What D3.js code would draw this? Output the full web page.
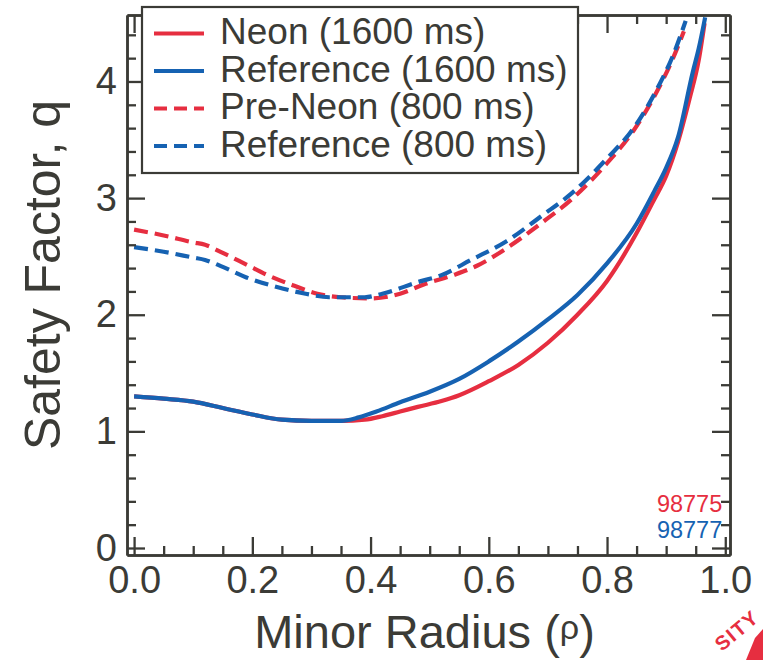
<!DOCTYPE html>
<html>
<head>
<meta charset="utf-8">
<script src="https://cdn.jsdelivr.net/npm/d3@7"></script>
<style>
  html, body { margin: 0; padding: 0; background: #ffffff; }
  svg { display: block; font-family: "Liberation Sans", Arial, Helvetica, sans-serif; }
</style>
</head>
<body>
<svg id="chart" width="763" height="660"></svg>
<script>
// Safety factor q profiles against normalized minor radius rho

// Neon-seeded discharge at 1600 ms
const neon1600Rho = [0, 0.05, 0.1, 0.15, 0.2, 0.25, 0.3, 0.35, 0.39, 0.42, 0.45, 0.48, 0.52, 0.55, 0.6, 0.65, 0.7, 0.75, 0.8, 0.85, 0.88, 0.9, 0.92, 0.94, 0.955, 0.965];
const neon1600Q   = [1.30, 1.28, 1.255, 1.20, 1.145, 1.10, 1.09, 1.09, 1.10, 1.13, 1.17, 1.21, 1.26, 1.31, 1.43, 1.57, 1.76, 2.00, 2.29, 2.70, 2.99, 3.19, 3.48, 3.86, 4.18, 4.50];

// Reference discharge at 1600 ms
const ref1600Rho = [0, 0.05, 0.1, 0.15, 0.2, 0.25, 0.3, 0.35, 0.38, 0.41, 0.45, 0.5, 0.55, 0.6, 0.65, 0.7, 0.75, 0.8, 0.85, 0.88, 0.9, 0.92, 0.945, 0.955, 0.966];
const ref1600Q   = [1.30, 1.28, 1.255, 1.20, 1.145, 1.10, 1.09, 1.09, 1.12, 1.17, 1.25, 1.34, 1.45, 1.60, 1.77, 1.96, 2.17, 2.44, 2.78, 3.06, 3.26, 3.52, 4.08, 4.28, 4.55];

// Neon discharge before injection, 800 ms
const preNeon800Rho = [0, 0.05, 0.1, 0.12, 0.15, 0.19, 0.23, 0.27, 0.31, 0.35, 0.4, 0.45, 0.49, 0.54, 0.58, 0.63, 0.69, 0.74, 0.8, 0.845, 0.885, 0.91, 0.93];
const preNeon800Q   = [2.73, 2.68, 2.62, 2.60, 2.53, 2.43, 2.33, 2.25, 2.18, 2.15, 2.14, 2.18, 2.26, 2.34, 2.42, 2.57, 2.79, 2.99, 3.30, 3.58, 3.92, 4.18, 4.43];

// Reference discharge at 800 ms
const ref800Rho = [0, 0.05, 0.1, 0.12, 0.15, 0.19, 0.24, 0.29, 0.33, 0.39, 0.42, 0.48, 0.52, 0.57, 0.63, 0.69, 0.74, 0.8, 0.845, 0.885, 0.913, 0.933];
const ref800Q   = [2.58, 2.54, 2.49, 2.47, 2.41, 2.32, 2.24, 2.18, 2.15, 2.15, 2.18, 2.28, 2.34, 2.47, 2.63, 2.85, 3.04, 3.34, 3.60, 3.94, 4.24, 4.52];

const seriesNames = ["Neon (1600 ms)", "Reference (1600 ms)", "Pre-Neon (800 ms)", "Reference (800 ms)"];
const shotNumbers = ["98775", "98777"];

const xMajorTicks = [0, 0.2, 0.4, 0.6, 0.8, 1.0];
const xMinorTicks = [0.05, 0.1, 0.15, 0.25, 0.3, 0.35, 0.45, 0.5, 0.55, 0.65, 0.7, 0.75, 0.85, 0.9, 0.95];
const yMajorTicks = [0, 1, 2, 3, 4];
const yMinorTicks = [0.2, 0.4, 0.6, 0.8, 1.2, 1.4, 1.6, 1.8, 2.2, 2.4, 2.6, 2.8, 3.2, 3.4, 3.6, 3.8, 4.2, 4.4];

const RED = "#e62e40";
const BLUE = "#1662b2";
const INK = "#3b3b36";

const svg = d3.select("#chart");

const frame = { left: 127, right: 730, top: 15, bottom: 555 };

const x = d3.scaleLinear().domain([-0.012, 1.008]).range([frame.left, frame.right]);
const y = d3.scaleLinear().domain([-0.06, 4.57]).range([frame.bottom, frame.top]);

svg.append("clipPath").attr("id", "plot-clip")
  .append("rect")
  .attr("x", frame.left).attr("y", frame.top)
  .attr("width", frame.right - frame.left).attr("height", frame.bottom - frame.top);

// Curves: each reference trace sits over its neon counterpart
const series = [
  { rho: preNeon800Rho, q: preNeon800Q, color: RED, dashed: true },
  { rho: ref800Rho, q: ref800Q, color: BLUE, dashed: true },
  { rho: neon1600Rho, q: neon1600Q, color: RED, dashed: false },
  { rho: ref1600Rho, q: ref1600Q, color: BLUE, dashed: false }
];

const line = d3.line()
  .x(d => x(d[0]))
  .y(d => y(d[1]))
  .curve(d3.curveMonotoneX);

const curves = svg.append("g").attr("clip-path", "url(#plot-clip)");
series.forEach(s => {
  curves.append("path")
    .datum(s.rho.map((r, i) => [r, s.q[i]]))
    .attr("fill", "none")
    .attr("stroke", s.color)
    .attr("stroke-width", 4.2)
    .attr("stroke-linejoin", "round")
    .attr("stroke-dasharray", s.dashed ? "14,7" : null)
    .attr("d", line);
});

// Axes: ticks point inward on all four sides
const MAJOR = 18, MINOR = 9;
function styleAxis(g) {
  g.selectAll(".domain").attr("stroke", INK).attr("stroke-width", 2.5);
  g.selectAll(".tick line").attr("stroke", INK).attr("stroke-width", 2.3);
  g.selectAll(".tick text").attr("fill", INK).attr("font-size", 38)
    .attr("font-family", "'Liberation Sans', Arial, Helvetica, sans-serif");
}

// bottom
svg.append("g").attr("transform", `translate(0,${frame.bottom})`)
  .call(d3.axisBottom(x).tickValues(xMinorTicks).tickSizeInner(-MINOR).tickSizeOuter(0).tickFormat(""))
  .call(styleAxis);
svg.append("g").attr("transform", `translate(0,${frame.bottom})`)
  .call(d3.axisBottom(x).tickValues(xMajorTicks).tickSizeInner(-MAJOR).tickSizeOuter(0)
    .tickPadding(11).tickFormat(d3.format(".1f")))
  .call(styleAxis);

// top
svg.append("g").attr("transform", `translate(0,${frame.top})`)
  .call(d3.axisTop(x).tickValues(xMinorTicks).tickSizeInner(-MINOR).tickSizeOuter(0).tickFormat(""))
  .call(styleAxis);
svg.append("g").attr("transform", `translate(0,${frame.top})`)
  .call(d3.axisTop(x).tickValues(xMajorTicks).tickSizeInner(-MAJOR).tickSizeOuter(0).tickFormat(""))
  .call(styleAxis);

// left
svg.append("g").attr("transform", `translate(${frame.left},0)`)
  .call(d3.axisLeft(y).tickValues(yMinorTicks).tickSizeInner(-MINOR).tickSizeOuter(0).tickFormat(""))
  .call(styleAxis);
svg.append("g").attr("transform", `translate(${frame.left},0)`)
  .call(d3.axisLeft(y).tickValues(yMajorTicks).tickSizeInner(-MAJOR).tickSizeOuter(0)
    .tickPadding(10).tickFormat(d3.format("d")))
  .call(styleAxis);

// right
svg.append("g").attr("transform", `translate(${frame.right},0)`)
  .call(d3.axisRight(y).tickValues(yMinorTicks).tickSizeInner(-MINOR).tickSizeOuter(0).tickFormat(""))
  .call(styleAxis);
svg.append("g").attr("transform", `translate(${frame.right},0)`)
  .call(d3.axisRight(y).tickValues(yMajorTicks).tickSizeInner(-MAJOR).tickSizeOuter(0).tickFormat(""))
  .call(styleAxis);

// Axis titles
const xTitle = svg.append("text")
  .attr("x", (frame.left + frame.right) / 2 - 4)
  .attr("y", 648)
  .attr("text-anchor", "middle")
  .attr("fill", INK)
  .attr("font-size", 47);
xTitle.append("tspan").text("Minor Radius (");
xTitle.append("tspan").attr("font-size", 34).attr("dy", -9).text("ρ");
xTitle.append("tspan").attr("dy", 9).text(")");

svg.append("text")
  .attr("transform", `translate(60,${(frame.top + frame.bottom) / 2 - 10}) rotate(-90)`)
  .attr("text-anchor", "middle")
  .attr("fill", INK)
  .attr("font-size", 50)
  .text("Safety Factor, q");

// Shot numbers
shotNumbers.forEach((s, i) => {
  svg.append("text")
    .attr("x", x(1.0) - 3)
    .attr("y", 512 + i * 26)
    .attr("text-anchor", "end")
    .attr("font-size", 23.5)
    .attr("fill", i === 0 ? RED : BLUE)
    .text(s);
});

// Legend
const legendColors = [RED, BLUE, RED, BLUE];
const legendDashed = [false, false, true, true];
const legend = svg.append("g");
legend.append("rect")
  .attr("x", 142).attr("y", 7).attr("width", 436).attr("height", 166)
  .attr("fill", "#ffffff").attr("stroke", INK).attr("stroke-width", 2.2);
seriesNames.forEach((name, i) => {
  const ly = 33.5 + i * 37.5;
  legend.append("line")
    .attr("x1", 154).attr("x2", 204).attr("y1", ly).attr("y2", ly)
    .attr("stroke", legendColors[i]).attr("stroke-width", 4.2)
    .attr("stroke-dasharray", legendDashed[i] ? "13,7" : null);
  legend.append("text")
    .attr("x", 220).attr("y", ly + 10.5)
    .attr("font-size", 37)
    .attr("fill", INK)
    .text(name);
});

// Corner emblem fragment
const emblem = svg.append("g").attr("fill", RED);
emblem.append("text")
  .attr("transform", "translate(722,652) rotate(-40)")
  .attr("font-size", 20)
  .attr("font-weight", "bold")
  .attr("letter-spacing", 1.5)
  .text("SITY");
emblem.append("path")
  .attr("d", "M755,638 L763,629 L763,660 L746,660 Z");
</script>
</body>
</html>
